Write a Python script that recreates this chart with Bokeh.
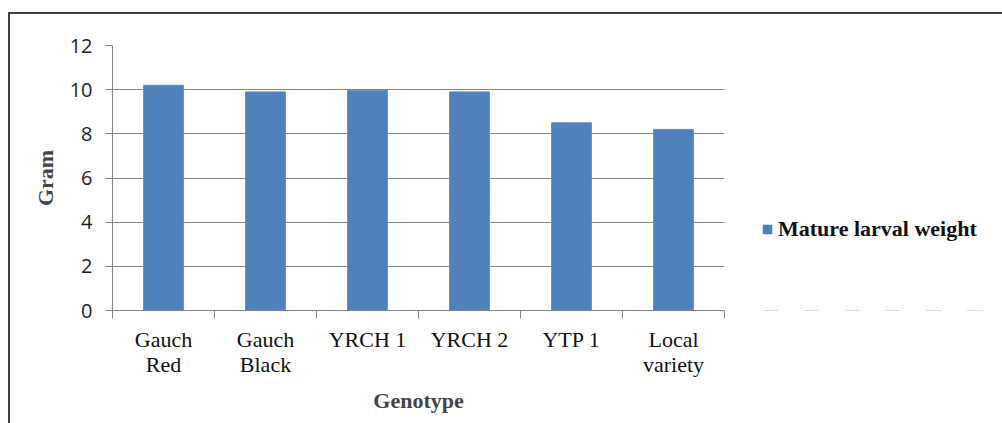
from bokeh.plotting import figure
from bokeh.layouts import row
from bokeh.models import (FactorRange, Range1d, CategoricalAxis, LinearAxis, FixedTicker,
                          Legend, LegendItem, ColumnDataSource, InlineStyleSheet)
from bokeh.embed import file_html
from bokeh.resources import INLINE

genotypes = ["Gauch\nRed", "Gauch\nBlack", "YRCH 1", "YRCH 2", "YTP 1", "Local\nvariety"]
weights = [10.2, 9.9, 9.97, 9.9, 8.5, 8.2]
y_ticks = [0, 2, 4, 6, 8, 10, 12]
series_name = "Mature larval weight"

BLUE = "#4F81BD"
GRAY = "#868686"
SERIF = "Liberation Serif"

p = figure(x_range=FactorRange(*genotypes), y_range=Range1d(0, 12),
           width=750, height=415, output_backend="svg", toolbar_location=None,
           x_axis_location=None, y_axis_location=None,
           min_border_left=112, min_border_right=26, min_border_top=45, min_border_bottom=103)
p.outline_line_color = None
p.background_fill_color = "white"
p.border_fill_color = None

src = ColumnDataSource(dict(x=genotypes, top=weights))
r = p.vbar(x="x", top="top", width=0.39, source=src, fill_color=BLUE, line_color="#5d8dc8", line_width=1)

# y axis
yaxis = LinearAxis(ticker=FixedTicker(ticks=y_ticks))
yaxis.axis_line_color = GRAY
yaxis.major_tick_line_color = GRAY
yaxis.major_tick_in = 0
yaxis.major_tick_out = 7
yaxis.minor_tick_line_color = None
yaxis.major_label_text_font = "Open Sans"
yaxis.major_label_text_font_size = "20px"
yaxis.major_label_text_color = "#222222"
yaxis.major_label_standoff = 13
yaxis.axis_label = "Gram"
yaxis.axis_label_text_font = SERIF
yaxis.axis_label_text_font_style = "bold"
yaxis.axis_label_text_font_size = "22px"
yaxis.axis_label_standoff = 9
p.add_layout(yaxis, "left")

# boundary ticks along x (synthetic category coordinates 0..6 are the boundaries)
boundaries = list(range(len(genotypes) + 1))
tick_axis = LinearAxis(ticker=FixedTicker(ticks=boundaries))
tick_axis.axis_line_color = GRAY
tick_axis.major_tick_line_color = GRAY
tick_axis.major_tick_in = 0
tick_axis.major_tick_out = 8
tick_axis.minor_tick_line_color = None
tick_axis.major_label_overrides = {i: "" for i in boundaries}
tick_axis.major_label_text_font_size = "1px"
tick_axis.major_label_standoff = 0
p.add_layout(tick_axis, "below")

xaxis = CategoricalAxis()
xaxis.axis_line_color = None
xaxis.major_tick_line_color = None
xaxis.major_tick_out = 0
xaxis.major_tick_in = 0
xaxis.major_label_text_font = SERIF
xaxis.major_label_text_font_size = "22px"
xaxis.major_label_text_line_height = 1.0
xaxis.major_label_text_color = "#111111"
xaxis.major_label_standoff = 8
xaxis.axis_label = "Genotype"
xaxis.axis_label_text_font = SERIF
xaxis.axis_label_text_font_style = "bold"
xaxis.axis_label_text_font_size = "22px"
xaxis.axis_label_standoff = 8
p.add_layout(xaxis, "below")

p.xgrid.visible = False
p.ygrid.grid_line_color = GRAY
p.ygrid.ticker = FixedTicker(ticks=y_ticks)

# legend panel: a small figure; its proxy bars lie outside its visible y range
lf = figure(x_range=FactorRange(*genotypes), y_range=Range1d(100, 101),
            width=244, height=415, output_backend="svg", toolbar_location=None,
            x_axis_location=None, y_axis_location=None,
            min_border_left=0, min_border_right=0, min_border_top=0, min_border_bottom=0)
lf.outline_line_color = None
lf.grid.visible = False
lf.background_fill_color = None
lf.border_fill_color = None
lr = lf.vbar(x="x", top="top", width=0.39, source=src, fill_color=BLUE, line_color=None)

legend = Legend(items=[LegendItem(label=series_name, renderers=[lr])],
                location=(11, 68), orientation="vertical")
legend.border_line_color = None
legend.background_fill_alpha = 0
legend.padding = 0
legend.margin = 0
legend.glyph_width = 12
legend.glyph_height = 12
legend.label_standoff = 5
legend.label_text_font = SERIF
legend.label_text_font_style = "bold"
legend.label_text_font_size = "22px"
legend.label_text_color = "#111111"
lf.add_layout(legend, "center")

layout = row(p, lf, spacing=0)
# outer chart-area border (left and top edges visible, like the reference crop)
layout.stylesheets = [InlineStyleSheet(css="""
:host { position: relative; background: white; }
:host::after {
  content: ""; position: absolute; left: 8px; top: 12px; width: 2000px; height: 2000px;
  border-left: 2px solid #404040; border-top: 2px solid #404040;
  pointer-events: none; box-sizing: border-box;
}
""")]

open("out.html", "w").write(file_html(layout, INLINE))
